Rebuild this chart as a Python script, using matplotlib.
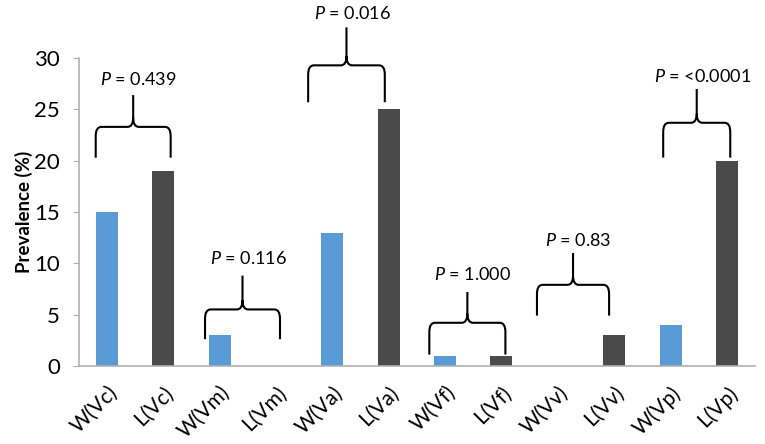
import matplotlib
matplotlib.use('Agg')
import matplotlib.pyplot as plt
from matplotlib.path import Path
from matplotlib.patches import PathPatch
import numpy as np

plt.rcParams['font.family'] = ['Lato', 'DejaVu Sans']
plt.rcParams['mathtext.fontset'] = 'custom'
plt.rcParams['mathtext.rm'] = 'Lato'
plt.rcParams['mathtext.it'] = 'Lato:italic'

categories = ['W(Vc)', 'L(Vc)', 'W(Vm)', 'L(Vm)', 'W(Va)', 'L(Va)',
              'W(Vf)', 'L(Vf)', 'W(Vv)', 'L(Vv)', 'W(Vp)', 'L(Vp)']
prevalence = [15, 19, 3, 0, 13, 25, 1, 1, 0, 3, 4, 20]
p_labels = ['0.439', '0.116', '0.016', '1.000', '0.83', '<0.0001']
# brace: left x, right x, leg bottom, shoulder, peak, text y (data units)
brace_left = [-0.2, 1.74, 3.57, 5.72, 7.63, 9.87]
brace_right = [1.13, 3.07, 4.93, 7.07, 8.91, 11.06]
brace_low = [20.3, 2.6, 25.7, 1.1, 4.9, 20.3]
brace_mid = [23.3, 5.5, 29.3, 4.2, 7.9, 23.7]
brace_top = [26.4, 8.8, 33.0, 7.2, 11.0, 27.0]
text_y = [27.9, 10.5, 34.4, 8.9, 12.2, 28.2]

blue = '#5b9bd5'
dark = '#4a4a4a'
colors = [blue if c.startswith('W') else dark for c in categories]

fig = plt.figure(figsize=(7.65, 4.44), dpi=100)
ax = fig.add_axes([0.103, 0.176, 0.884, 0.693])

x = np.arange(len(categories))
ax.bar(x, prevalence, width=0.39, color=colors)

ax.set_xlim(-0.5, len(categories) - 0.5)
ax.set_ylim(0, 30)
ax.set_yticks(range(0, 31, 5))
ax.tick_params(axis='y', labelsize=16, length=4.5, pad=9, color='#b0b0b0')
ax.tick_params(axis='x', length=0, labelsize=15, pad=12)
ax.set_xticks(x)
ax.set_xticklabels(categories, rotation=45, ha='right', rotation_mode='anchor')
ax.set_ylabel('Prevalence (%)', fontsize=13.5, fontweight='bold', labelpad=1)
for s in ['top', 'right']:
    ax.spines[s].set_visible(False)
ax.spines['left'].set_color('#b0b0b0')
ax.spines['bottom'].set_color('#b0b0b0')
ax.spines['left'].set_linewidth(1.2)
ax.spines['bottom'].set_linewidth(1.2)


def brace(xl, xr, lo, mid, hi):
    xc = (xl + xr) / 2
    rx = 0.1
    ry = 0.9
    verts = [(xl, lo), (xl, mid - ry), (xl, mid), (xl + rx, mid),
             (xc - rx, mid), (xc, mid), (xc, mid + ry), (xc, hi),
             (xc, mid + ry), (xc, mid), (xc + rx, mid),
             (xr - rx, mid), (xr, mid), (xr, mid - ry), (xr, lo)]
    codes = [Path.MOVETO, Path.LINETO, Path.CURVE3, Path.CURVE3,
             Path.LINETO, Path.CURVE3, Path.CURVE3, Path.LINETO,
             Path.MOVETO, Path.CURVE3, Path.CURVE3,
             Path.LINETO, Path.CURVE3, Path.CURVE3, Path.LINETO]
    return PathPatch(Path(verts, codes), fill=False, lw=1.5, color='black', clip_on=False)


for i in range(len(p_labels)):
    ax.add_patch(brace(brace_left[i], brace_right[i], brace_low[i], brace_mid[i], brace_top[i]))
    xc = (brace_left[i] + brace_right[i]) / 2
    ax.text(xc + 0.1, text_y[i], r'$\it{P}$ = ' + p_labels[i], ha='center', va='center',
            fontsize=13, clip_on=False)

fig.savefig('out.png', dpi=100)
